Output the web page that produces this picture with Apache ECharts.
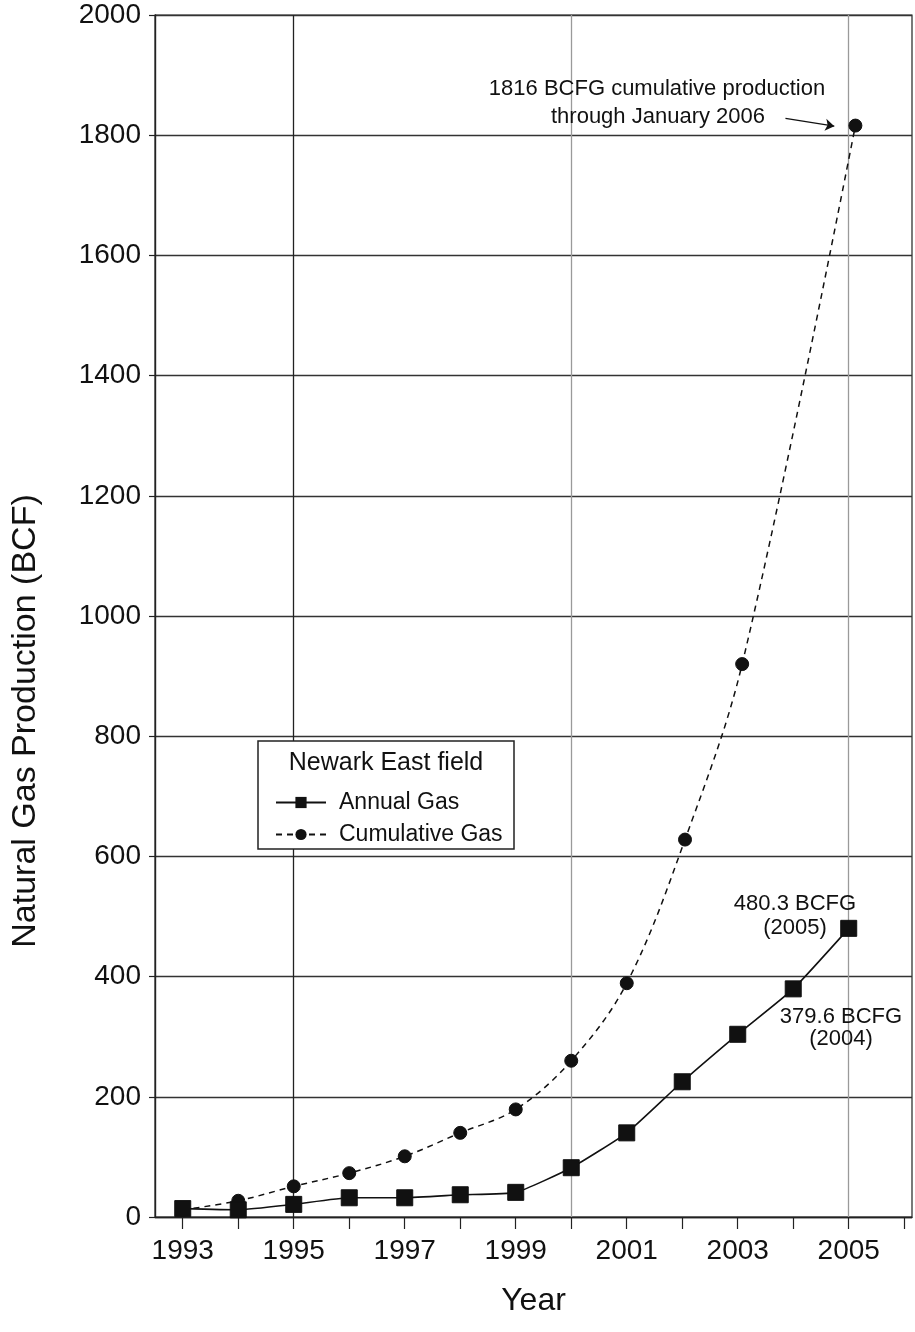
<!DOCTYPE html>
<html>
<head>
<meta charset="utf-8">
<script src="https://cdn.jsdelivr.net/npm/echarts@6/dist/echarts.min.js"></script>
<style>
  html, body { margin: 0; padding: 0; background: #ffffff; }
  #chart { width: 915px; height: 1332px; }
</style>
</head>
<body>
<div id="chart"></div>
<script>
// ---- data ----
const years = [1993, 1994, 1995, 1996, 1997, 1998, 1999, 2000, 2001, 2002, 2003, 2004, 2005];
const annualGas = [14, 12, 21, 32, 32, 37, 41, 82, 140, 225, 304, 379.6, 480.3];

const cumulativeX = [1993, 1994, 1995, 1996, 1997, 1998, 1999, 2000, 2001, 2002.05, 2003.08, 2005.12];
const cumulativeGas = [12, 27, 51, 73, 101, 140, 179, 260, 389, 628, 920, 1816];

const xTickYears = [1993, 1994, 1995, 1996, 1997, 1998, 1999, 2000, 2001, 2002, 2003, 2004, 2005, 2006];
const xLabelYears = [1993, 1995, 1997, 1999, 2001, 2003, 2005];

const legendTitle = 'Newark East field';
const seriesNames = ['Annual Gas', 'Cumulative Gas'];
const notes = {
  cumulative: ['1816 BCFG cumulative production', 'through January 2006'],
  y2005: ['480.3 BCFG', '(2005)'],
  y2004: ['379.6 BCFG', '(2004)']
};

const axisFont = '"Liberation Sans", Arial, sans-serif';
const textFont = '"Liberation Sans", Arial, sans-serif';
const ink = '#111111';

const chart = echarts.init(document.getElementById('chart'), null, { renderer: 'canvas' });

const option = {
  backgroundColor: '#ffffff',
  animation: false,
  grid: {
    left: 155, top: 15, right: 3, bottom: 115,
    show: true, borderColor: '#222', borderWidth: 1.2, backgroundColor: 'transparent'
  },
  xAxis: {
    type: 'value',
    min: 1992.5,
    max: 2006.14,
    name: 'Year',
    nameLocation: 'middle',
    nameGap: 68,
    nameTextStyle: { fontFamily: axisFont, fontSize: 32, color: ink },
    axisLine: { show: true, lineStyle: { color: '#222', width: 1.4 } },
    axisTick: { show: true, length: 12, inside: false, customValues: xTickYears, lineStyle: { color: '#222', width: 1.2 } },
    axisLabel: {
      customValues: xLabelYears,
      fontFamily: axisFont, fontSize: 28, color: ink, margin: 20,
      formatter: v => String(v)
    },
    splitLine: { show: false }
  },
  yAxis: {
    type: 'value',
    min: 0,
    max: 2000,
    interval: 200,
    name: 'Natural Gas Production (BCF)',
    nameLocation: 'middle',
    nameGap: 112,
    nameTextStyle: { fontFamily: axisFont, fontSize: 34, color: ink, padding: [0, 210, 0, 0] },
    axisLine: { show: true, lineStyle: { color: '#222', width: 1.4 } },
    axisTick: { show: true, length: 6, lineStyle: { color: '#222', width: 1.2 } },
    axisLabel: { fontFamily: axisFont, fontSize: 28, color: ink, margin: 14, formatter: v => String(v) },
    splitLine: { show: true, lineStyle: { color: '#333', width: 1.3 } }
  },
  legend: {
    orient: 'vertical',
    left: 270,
    top: 786,
    itemWidth: 50,
    itemHeight: 14,
    itemGap: 9,
    selectedMode: false,
    z: 20,
    data: seriesNames,
    textStyle: { fontFamily: textFont, fontSize: 23, color: ink, padding: [0, 0, 0, 8] }
  },
  graphic: [
    {
      type: 'rect', z: 10, silent: true,
      shape: { x: 258, y: 741, width: 256, height: 108 },
      style: { fill: '#ffffff', stroke: '#222', lineWidth: 1.5 }
    },
    {
      type: 'text', z: 11, silent: true, x: 386, y: 763,
      style: { text: legendTitle, font: '25px ' + textFont, fill: ink, textAlign: 'center', textVerticalAlign: 'middle' }
    },
    {
      type: 'text', z: 11, silent: true, x: 657, y: 89,
      style: { text: notes.cumulative[0], font: '22px ' + textFont, fill: ink, textAlign: 'center', textVerticalAlign: 'middle' }
    },
    {
      type: 'text', z: 11, silent: true, x: 658, y: 117,
      style: { text: notes.cumulative[1], font: '22px ' + textFont, fill: ink, textAlign: 'center', textVerticalAlign: 'middle' }
    },
    {
      type: 'text', z: 11, silent: true, x: 795, y: 904,
      style: { text: notes.y2005[0], font: '22px ' + textFont, fill: ink, textAlign: 'center', textVerticalAlign: 'middle' }
    },
    {
      type: 'text', z: 11, silent: true, x: 795, y: 928,
      style: { text: notes.y2005[1], font: '22px ' + textFont, fill: ink, textAlign: 'center', textVerticalAlign: 'middle' }
    },
    {
      type: 'text', z: 11, silent: true, x: 841, y: 1017,
      style: { text: notes.y2004[0], font: '22px ' + textFont, fill: ink, textAlign: 'center', textVerticalAlign: 'middle' }
    },
    {
      type: 'text', z: 11, silent: true, x: 841, y: 1039,
      style: { text: notes.y2004[1], font: '22px ' + textFont, fill: ink, textAlign: 'center', textVerticalAlign: 'middle' }
    }
  ],
  series: [
    {
      name: seriesNames[0],
      type: 'line',
      data: years.map((y, i) => [y, annualGas[i]]),
      smooth: 0.15,
      symbol: 'rect',
      symbolSize: 16,
      showAllSymbol: true,
      lineStyle: { color: ink, width: 1.6, type: 'solid' },
      itemStyle: { color: ink, borderColor: ink },
      z: 5,
      markLine: {
        silent: true,
        symbol: ['none', 'none'],
        label: { show: false },
        z: 1,
        data: [
          { xAxis: 1995, lineStyle: { color: '#222', width: 1.3, type: 'solid' } },
          { xAxis: 2000, lineStyle: { color: '#9a9a9a', width: 1.3, type: 'solid' } },
          { xAxis: 2005, lineStyle: { color: '#9a9a9a', width: 1.3, type: 'solid' } }
        ]
      }
    },
    {
      name: seriesNames[1],
      type: 'line',
      data: cumulativeX.map((x, i) => [x, cumulativeGas[i]]),
      smooth: 0.35,
      symbol: 'circle',
      symbolSize: 13,
      showAllSymbol: true,
      lineStyle: { color: ink, width: 1.5, type: [6, 5] },
      itemStyle: { color: ink, borderColor: ink },
      z: 4,
      markLine: {
        silent: true,
        label: { show: false },
        symbolSize: 9,
        data: [
          [
            { coord: [2003.86, 1828], symbol: 'none' },
            { coord: [2004.74, 1815], symbol: 'arrow' }
          ]
        ],
        lineStyle: { color: ink, width: 1.2, type: 'solid' }
      }
    }
  ]
};

chart.setOption(option);
</script>
</body>
</html>
